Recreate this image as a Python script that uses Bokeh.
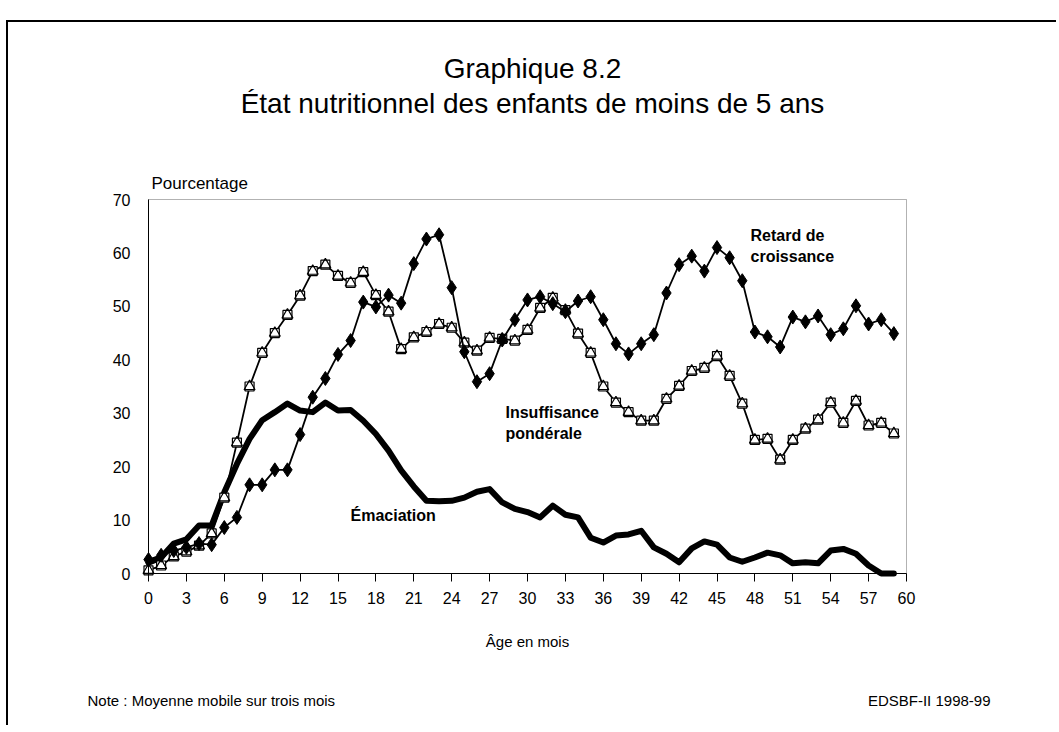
from bokeh.plotting import figure
from bokeh.models import Range1d, Label, FixedTicker, BoxAnnotation
from bokeh.embed import file_html
from bokeh.resources import INLINE

months = list(range(60))

retard = [2.6, 3.4, 4.3, 4.9, 5.6, 5.4, 8.6, 10.5, 16.6, 16.6,
          19.4, 19.4, 26.0, 33.0, 36.5, 41.0, 43.6, 50.8, 49.9, 52.1,
          50.6, 58.0, 62.6, 63.4, 53.5, 41.5, 35.9, 37.4, 43.7, 47.5,
          51.2, 51.8, 50.5, 49.0, 51.0, 51.8, 47.5, 43.0, 41.1, 43.0,
          44.7, 52.5, 57.8, 59.4, 56.6, 61.0, 59.1, 54.8, 45.2, 44.3,
          42.4, 48.0, 47.1, 48.2, 44.7, 45.8, 50.1, 46.7, 47.5, 44.9]

insuffisance = [0.6, 1.5, 3.2, 4.1, 5.2, 7.5, 14.2, 24.5, 35.0, 41.3,
                45.0, 48.4, 52.0, 56.6, 57.8, 55.7, 54.4, 56.4, 52.1, 49.0,
                42.0, 44.2, 45.2, 46.7, 46.0, 43.2, 41.7, 44.1, 43.9, 43.6,
                45.6, 49.7, 51.6, 49.3, 44.9, 41.3, 35.0, 32.0, 30.2, 28.6,
                28.6, 32.7, 35.1, 37.9, 38.5, 40.7, 37.0, 31.8, 25.0, 25.2,
                21.3, 25.0, 27.1, 28.8, 32.0, 28.2, 32.3, 27.7, 28.2, 26.2]

emaciation = [2.0, 3.0, 5.6, 6.4, 9.0, 9.0, 15.2, 20.5, 25.2, 28.7,
              30.2, 31.8, 30.5, 30.2, 32.0, 30.5, 30.6, 28.6, 26.1, 23.0,
              19.3, 16.3, 13.6, 13.5, 13.6, 14.2, 15.3, 15.8, 13.3, 12.1,
              11.5, 10.5, 12.7, 11.0, 10.5, 6.7, 5.8, 7.1, 7.3, 8.0,
              4.9, 3.7, 2.1, 4.7, 6.0, 5.4, 3.0, 2.2, 3.0, 3.9,
              3.4, 1.9, 2.1, 1.9, 4.3, 4.6, 3.7, 1.5, 0.0, 0.0]

x_ticks = list(range(0, 61, 3))
y_ticks = list(range(0, 71, 10))
X_MIN, X_MAX = 0, 60
Y_MIN, Y_MAX = 0, 70

FONT = "Liberation Sans"

# ---- page geometry (pixels) ----
OX, OY = 8, 22                 # canvas origin on the page (margin + 2px border)
W, H = 1050, 705
FRAME_L, FRAME_R = 148, 906     # plot box on the page
FRAME_T, FRAME_B = 199, 573

sx = (FRAME_R - FRAME_L) / (X_MAX - X_MIN)
sy = (FRAME_B - FRAME_T) / (Y_MAX - Y_MIN)
x_range = Range1d(X_MIN - (FRAME_L - OX) / sx, X_MIN + (OX + W - FRAME_L) / sx)
y_range = Range1d(Y_MIN - (OY + H - FRAME_B) / sy, Y_MIN + (FRAME_B - OY) / sy)

p = figure(width=W, height=H, output_backend="svg", toolbar_location=None,
           x_range=x_range, y_range=y_range, title=None,
           min_border=0, min_border_left=0, min_border_right=0,
           min_border_top=0, min_border_bottom=0)
p.styles = {"margin-top": f"{OY - 2}px", "margin-left": f"{OX - 2}px",
            "border-top": "2px solid black", "border-left": "2px solid black"}
p.grid.visible = False
p.outline_line_color = None
p.background_fill_color = "white"
p.border_fill_color = "white"

# plot box
p.add_layout(BoxAnnotation(left=X_MIN, right=X_MAX, bottom=Y_MIN, top=Y_MAX,
                           fill_alpha=0, line_color="black", line_width=1,
                           level="underlay"))

# axes placed on the box edges
p.xaxis.fixed_location = Y_MIN
p.xaxis.bounds = (X_MIN, X_MAX)
p.xaxis.ticker = FixedTicker(ticks=x_ticks)
p.xaxis.major_tick_out = 8
p.xaxis.major_tick_in = 0
p.xaxis.minor_tick_out = 0
p.xaxis.minor_tick_in = 0
p.xaxis.axis_line_color = "black"
p.xaxis.major_tick_line_color = "black"
p.xaxis.major_label_standoff = 10
p.xaxis.major_label_text_font = FONT
p.xaxis.major_label_text_font_size = "16px"
p.xaxis.major_label_text_color = "black"
p.xaxis.axis_label = "Âge en mois"
p.xaxis.axis_label_text_font = FONT
p.xaxis.axis_label_text_font_size = "15px"
p.xaxis.axis_label_text_font_style = "normal"
p.xaxis.axis_label_text_color = "black"
p.xaxis.axis_label_standoff = 26

p.yaxis.fixed_location = X_MIN
p.yaxis.bounds = (Y_MIN, Y_MAX)
p.yaxis.ticker = FixedTicker(ticks=y_ticks)
p.yaxis.major_tick_out = 0
p.yaxis.major_tick_in = 0
p.yaxis.minor_tick_out = 0
p.yaxis.minor_tick_in = 0
p.yaxis.axis_line_color = "black"
p.yaxis.major_label_standoff = 18
p.yaxis.major_label_text_font = FONT
p.yaxis.major_label_text_font_size = "16px"
p.yaxis.major_label_text_color = "black"

# series
p.line(months, emaciation, line_color="black", line_width=6, line_join="round", line_cap="round")
p.line(months, insuffisance, line_color="black", line_width=1.8, line_join="round")
p.scatter(months, insuffisance, marker="square", size=9, fill_color="white", line_color="black", line_width=1.2)
p.scatter(months, insuffisance, marker="triangle", size=11, fill_color=None, line_color="black", line_width=1.2)
p.line(months, retard, line_color="black", line_width=1.8, line_join="round")
p.scatter(months, retard, marker="diamond", size=14, fill_color="black", line_color="black")


def put(text, px, py, size, align="left", bold=False):
    # px, py: page pixel position of the text anchor (vertical middle)
    p.add_layout(Label(x=px - OX, y=py - OY, x_units="canvas", y_units="canvas",
                       text=text, text_font=FONT, text_font_size=size,
                       text_align=align, text_baseline="middle", text_color="black",
                       text_font_style="bold" if bold else "normal"))

put("Graphique 8.2", 530, 66, "28px", "center")
put("État nutritionnel des enfants de moins de 5 ans", 530, 101, "28px", "center")
put("Pourcentage", 149, 181, "17px")

put("Retard de", 748, 233, "16px", bold=True)
put("croissance", 748, 254, "16px", bold=True)
put("Insuffisance", 503, 410, "16px", bold=True)
put("pondérale", 503, 431, "16px", bold=True)
put("Émaciation", 348, 513, "16px", bold=True)

put("Note : Moyenne mobile sur trois mois", 85, 698, "15px")
put("EDSBF-II 1998-99", 988, 698, "15px", "right")

open("out.html", "w").write(file_html(p, INLINE))
